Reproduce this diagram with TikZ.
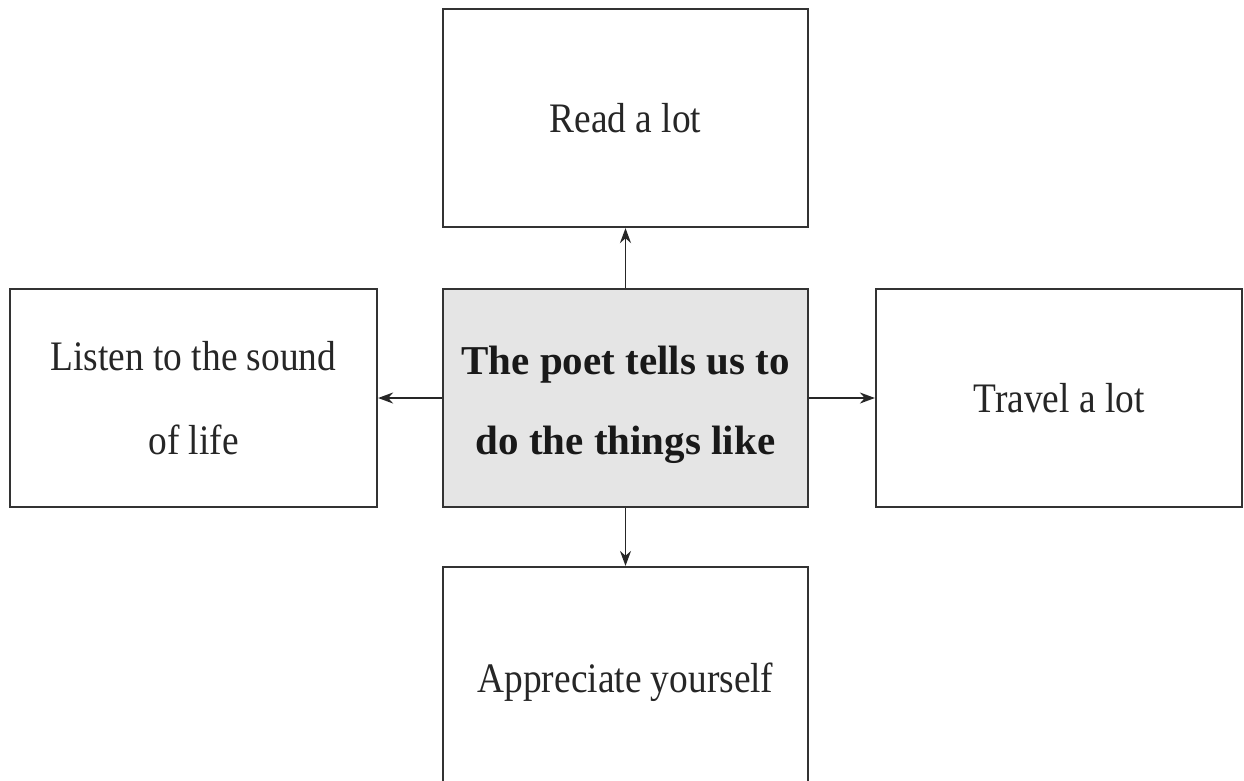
\documentclass[tikz,border=0pt]{standalone}
\usepackage{fontspec}
\setmainfont{Liberation Serif}
\newfontfamily\condfont[FakeStretch=0.89]{Liberation Serif}
\usetikzlibrary{arrows.meta}
\tikzset{
  box/.style={draw=black!80, line width=2.2pt, minimum width=365pt, minimum height=218pt,
    inner sep=0pt, align=center, text=black!85,
    font=\condfont\fontsize{42}{84}\selectfont},
  centerbox/.style={box, fill=black!10},
  centertext/.style={inner sep=0pt, align=center, text=black!90,
    font=\bfseries\fontsize{41}{80}\selectfont},
  conn/.style={draw=black!85, line width=1.8pt, -{Stealth[length=15pt,width=11pt]}}
}
\begin{document}
\begin{tikzpicture}[x=1pt,y=-1pt]
\useasboundingbox (0,0) rectangle (1244,780);
\clip (0,0) rectangle (1244,780);
\fill[white] (0,0) rectangle (1244,780);
\node[centerbox] (c) at (625.5,398) {};
\node[centertext] (ct) at (625.5,405) {The poet tells us to\\do the things like};
\node[box] (top) at (625.5,118) {Read a lot};
\node[box, minimum width=367pt] (left) at (193.5,398) {Listen to the sound\\of life};
\node[box, minimum width=366pt] (right) at (1059,398) {Travel a lot};
\node[box, minimum height=230pt] (bot) at (625.5,682) {Appreciate yourself};
\draw[conn] (c.north) -- (top.south);
\draw[conn] (c.west) -- (left.east);
\draw[conn] (c.east) -- (right.west);
\draw[conn] (c.south) -- (bot.north);
\end{tikzpicture}
\end{document}
